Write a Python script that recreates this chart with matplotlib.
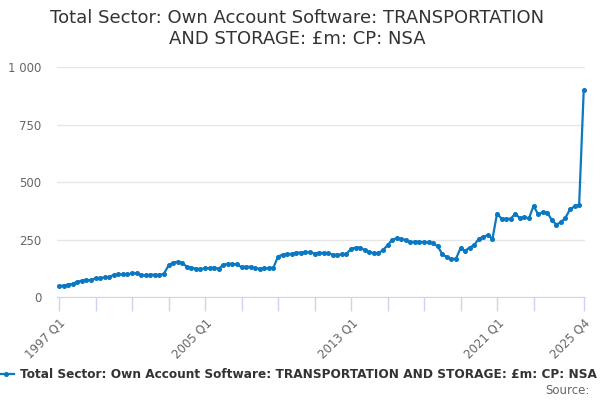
import matplotlib
matplotlib.use('Agg')
import matplotlib.pyplot as plt
from matplotlib.lines import Line2D
from matplotlib.ticker import FuncFormatter

# --- data: quarterly values, 1997 Q1 .. 2025 Q4 (£m) ---
years = list(range(1997, 2026))
quarters = [f'{y} Q{q}' for y in years for q in range(1, 5)]

values = [
    48, 50, 54, 57, 66, 71, 75, 72, 82, 82, 85, 87, 96, 98, 98, 98,
    103, 103, 97, 94, 97, 97, 96, 101, 137, 150, 153, 148, 132, 128, 123, 121,
    125, 126, 128, 123, 140, 144, 143, 143, 129, 132, 131, 125, 123, 125, 126, 128,
    176, 184, 187, 187, 193, 193, 194, 196, 188, 193, 191, 190, 184, 184, 185, 188,
    209, 215, 215, 204, 196, 190, 191, 204, 225, 248, 256, 253, 248, 238, 241, 240,
    238, 238, 234, 220, 187, 173, 166, 166, 212, 201, 215, 226, 253, 262, 269, 253,
    362, 341, 340, 340, 363, 342, 347, 342, 396, 360, 368, 367, 335, 315, 325, 345,
    381, 394, 402, 899,
]

label_quarters = ['1997 Q1', '2005 Q1', '2013 Q1', '2021 Q1', '2025 Q4']
tick_quarters = [f'{y} Q1' for y in range(1997, 2025, 2)] + ['2025 Q4']
yticks = [0, 250, 500, 750, 1000]

title = 'Total Sector: Own Account Software: TRANSPORTATION\nAND STORAGE: £m: CP: NSA'
series_name = 'Total Sector: Own Account Software: TRANSPORTATION AND STORAGE: £m: CP: NSA'

LINE = '#0a78c2'
AXIS = '#ccd6eb'
GRID = '#e6e6e6'
TXT = '#333333'
LBL = '#666666'

fig = plt.figure(figsize=(6, 4), dpi=100)
ax = fig.add_axes([57 / 600, 1 - 297 / 400, 528 / 600, 230 / 400])

x = list(range(len(values)))
ax.plot(x, values, '-o', color=LINE, lw=1.6, markersize=2.6, zorder=3, clip_on=False)

ax.set_xlim(-0.44, 115.28)
ax.set_ylim(0, 1000)

# y axis
ax.set_yticks(yticks)
ax.yaxis.set_major_formatter(FuncFormatter(lambda v, p: f'{int(v):,}'.replace(',', ' ')))
ax.tick_params(axis='y', length=0, pad=11, labelsize=8.5, labelcolor=LBL)
ax.grid(axis='y', color=GRID, lw=1)
ax.set_axisbelow(True)

# x axis
idx = {q: i for i, q in enumerate(quarters)}
ax.set_xticks([idx[q] for q in tick_quarters])
ax.set_xticklabels([q if q in label_quarters else '' for q in tick_quarters],
                   rotation=45, ha='right', rotation_mode='anchor')
ax.tick_params(axis='x', length=10, width=1, color=AXIS, labelsize=8.5,
               labelcolor=LBL, pad=4)

for s in ['top', 'right', 'left']:
    ax.spines[s].set_visible(False)
ax.spines['bottom'].set_color(AXIS)

fig.text(0.495, 0.978, title, ha='center', va='top', fontsize=13, color=TXT,
         linespacing=1.25)

# legend (drawn by hand, cut off at left like the reference)
fig.add_artist(Line2D([-2 / 600, 14 / 600], [1 - 374 / 400] * 2, color=LINE, lw=1.6))
fig.add_artist(Line2D([6 / 600], [1 - 374 / 400], marker='o', color=LINE, markersize=2.6))
fig.text(20 / 600, 1 - 374 / 400, series_name, ha='left', va='center',
         fontsize=8.7, fontweight='bold', color=TXT)

fig.text(590 / 600, 1 - 391 / 400, 'Source:', ha='right', va='center',
         fontsize=8.5, color=LBL)

fig.savefig('out.png', dpi=100)
